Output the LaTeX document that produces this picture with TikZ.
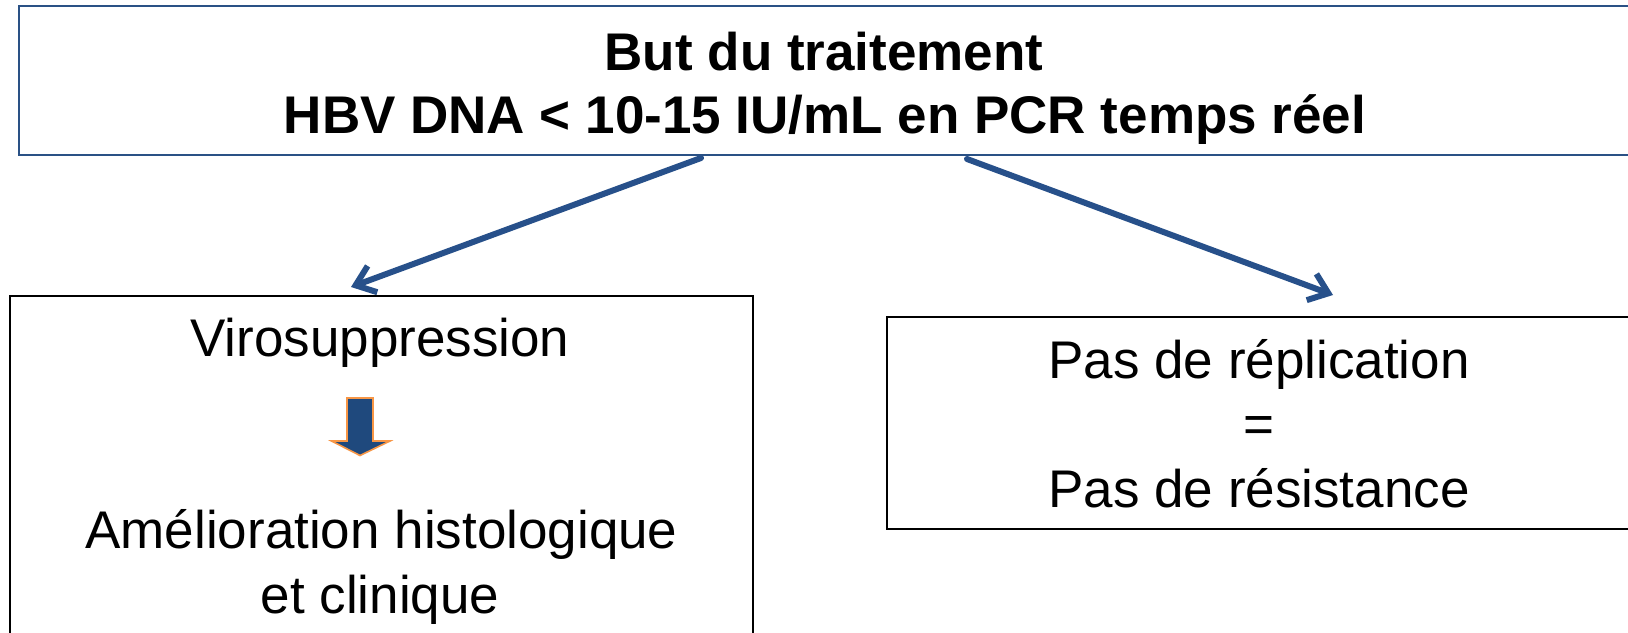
\documentclass[tikz,border=0pt]{standalone}
\usepackage{fontspec}
\setmainfont{Liberation Sans}
\usetikzlibrary{arrows.meta}
\definecolor{topblue}{HTML}{2A5185}
\definecolor{arrblue}{HTML}{27508A}
\definecolor{fillblue}{HTML}{1F497D}
\definecolor{orng}{HTML}{F79646}
\begin{document}
\begin{tikzpicture}[x=1pt,y=-1pt,
  txt/.style={inner sep=0pt, anchor=base, font=\fontsize{53}{63}\selectfont},
  bold/.style={inner sep=0pt, anchor=base, font=\fontsize{53}{63}\selectfont\bfseries},
  box/.style={draw=black, line width=2pt, inner sep=0pt},
  conn/.style={draw=arrblue, line width=6pt, -{Straight Barb[length=18pt,width=28pt]}, line cap=round, line join=round}]
\useasboundingbox (0,0) rectangle (1628,632);
\fill[white] (0,0) rectangle (1628,632);
% top box
\node[draw=topblue, line width=2.2pt, inner sep=0pt, minimum width=1616pt, minimum height=149pt] (top) at (827,80.5) {};
\node[bold] (t1) at (824,70) {But du traitement};
\node[bold] (t2) at (825,133) {HBV DNA < 10-15 IU/mL en PCR temps réel};
% left box
\node[box, minimum width=743pt, minimum height=370pt] (lb) at (381.7,481) {};
\node[txt] (l1) at (380,356) {Virosuppression};
\node[txt] (l2) at (381.5,548) {Amélioration histologique};
\node[txt] (l3) at (380,613) {et clinique};
% block arrow
\draw[fill=fillblue, draw=orng, line width=1.6pt, line join=miter]
  (347,398) -- (373,398) -- (373,441) -- (390,441) -- (360,455.5) -- (331.5,441) -- (347,441) -- cycle;
% right box
\node[box, minimum width=744pt, minimum height=212pt] (rb) at (1259,423) {};
\node[txt] (r1) at (1259,378) {Pas de réplication};
\node[txt] (r2) at (1259,442.5) {=};
\node[txt] (r3) at (1259,507) {Pas de résistance};
% connectors
\coordinate (a1s) at (701,158);
\coordinate (a1e) at (351,287);
\coordinate (a2s) at (967,159);
\coordinate (a2e) at (1333,295);
\draw[conn] (a1s) -- (a1e);
\draw[conn] (a2s) -- (a2e);
\end{tikzpicture}
\end{document}
